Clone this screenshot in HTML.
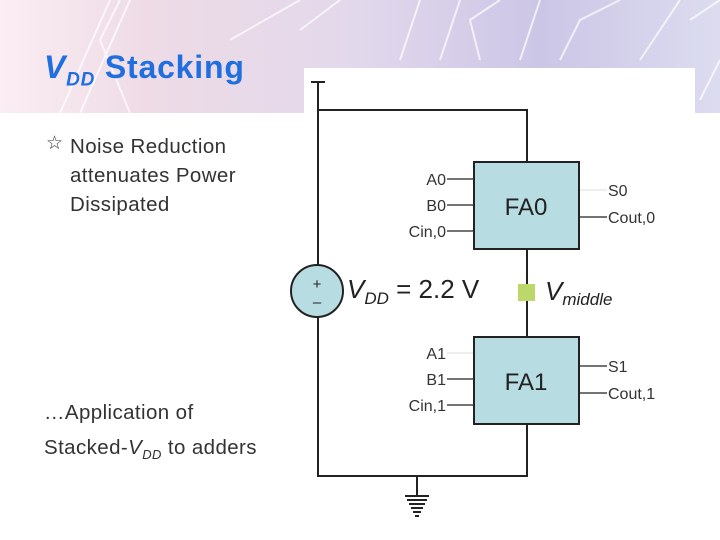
<!DOCTYPE html>
<html><head><style>
body{margin:0;width:720px;height:540px;overflow:hidden;background:#fff;font-family:"Liberation Sans",sans-serif;position:relative}
.banner{position:absolute;left:0;top:0;width:720px;height:113px;background:linear-gradient(90deg,#fbeef3 0%,#eedbe6 20%,#e2d8ec 50%,#ccc6e6 75%,#dcdcf0 100%)}
.t{position:absolute;font-family:"Liberation Sans",sans-serif}
</style></head><body>
<div class="banner">
<svg width="720" height="113" style="position:absolute;left:0;top:0" stroke="#fff" stroke-width="2" fill="none" opacity="0.7">
<path d="M60 113 L110 0 M80 113 L130 0 M130 113 L100 40 L120 0 M230 40 L300 0 M300 30 L340 0 M400 60 L420 0 M440 60 L460 0 M480 60 L470 20 L500 0 M520 60 L540 0 M560 60 L580 20 L620 0 M640 60 L680 0 M700 100 L720 60 M690 20 L720 0"/>
</svg>
</div>
<div style="position:absolute;left:304px;top:68px;width:391px;height:472px;background:#fff"></div>
<div class="t" style="left:44px;top:49px;color:#1f6fe0;font-weight:bold;font-size:32px;letter-spacing:0.8px"><i>V<sub style="font-size:19px">DD</sub></i> Stacking</div>
<div class="t" style="left:46px;top:132px;font-size:19px;color:#333">☆</div>
<div class="t" style="left:70px;top:132px;font-size:20.5px;line-height:29px;color:#333;letter-spacing:0.4px">Noise Reduction<br>attenuates Power<br>Dissipated</div>
<div class="t" style="left:44px;top:395px;font-size:20.5px;line-height:35px;color:#333;letter-spacing:0.4px">…Application of<br>Stacked-<i>V<sub style="font-size:13px">DD</sub></i> to adders</div>
<svg width="720" height="540" style="position:absolute;left:0;top:0" font-family="Liberation Sans, sans-serif">
<g stroke="#222" stroke-width="2" fill="none">
<path d="M311 82 H325 M318 82 V265 M318 317 V476 H527 V424 M318 110 H527 V162 M527 249 V337 M417 476 V495"/>
<path d="M447 179 H474 M447 205 H474 M447 231 H474 M579 217 H607 M447 379 H474 M447 405 H474 M579 366 H607 M579 393 H607" stroke-width="1.3"/>
<path d="M447 353 H474 M579 190 H607" stroke="#ddd" stroke-width="1"/>
<path d="M405 496 H429 M407 500 H427 M409 504 H425 M411 508 H423 M413 512 H421 M415 516 H419"/>
</g>
<rect x="474" y="162" width="105" height="87" fill="#b7dce2" stroke="#222" stroke-width="2"/>
<rect x="474" y="337" width="105" height="87" fill="#b7dce2" stroke="#222" stroke-width="2"/>
<circle cx="317" cy="291" r="26" fill="#b7dce2" stroke="#222" stroke-width="2"/>
<text x="317" y="289" font-size="15" text-anchor="middle" fill="#222">+</text>
<text x="317" y="307" font-size="15" text-anchor="middle" fill="#222">–</text>
<rect x="518" y="284" width="17" height="17" fill="#bcd86a"/>
<g font-size="24" fill="#222" text-anchor="middle"><text x="526" y="215">FA0</text><text x="526" y="390">FA1</text></g>
<g font-size="16" fill="#333" text-anchor="end">
<text x="446" y="185">A0</text><text x="446" y="211">B0</text><text x="446" y="237">Cin,0</text>
<text x="446" y="359">A1</text><text x="446" y="385">B1</text><text x="446" y="411">Cin,1</text></g>
<g font-size="16" fill="#333">
<text x="608" y="196">S0</text><text x="608" y="223">Cout,0</text>
<text x="608" y="372">S1</text><text x="608" y="399">Cout,1</text></g>
<text x="347" y="298" font-size="26" fill="#222"><tspan font-style="italic">V</tspan><tspan font-style="italic" font-size="17" dy="6">DD</tspan><tspan dy="-6"> = 2.2 V</tspan></text>
<text x="545" y="300" font-size="26" fill="#222" font-style="italic">V<tspan font-size="17" dy="5">middle</tspan></text>
</svg>
</body></html>
